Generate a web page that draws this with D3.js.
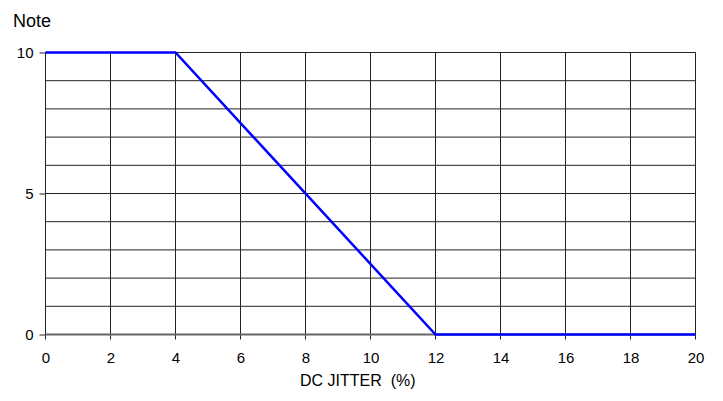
<!DOCTYPE html>
<html><head><meta charset="utf-8">
<script src="https://cdn.jsdelivr.net/npm/d3@7"></script>
<style>body{margin:0;background:#fff}svg{display:block}text{font-family:Arial,"Liberation Sans",sans-serif;fill:#000}</style>
</head><body><svg id="c" width="723" height="401"></svg>
<script>
const jitter = [0, 4, 12, 20];
const note = [10, 10, 0, 0];
const xTicks = [0,2,4,6,8,10,12,14,16,18,20];
const yTicks = [0,5,10];
const yGrid = [0,1,2,3,4,5,6,7,8,9,10];

const svg = d3.select("#c");
const x = d3.scaleLinear().domain([0,20]).range([45.5,695.5]);
const y = d3.scaleLinear().domain([0,10]).range([334.5,52.5]);
const FONT = "Arial, 'Liberation Sans', sans-serif";

// horizontal grid
svg.append("g").selectAll("line").data(yGrid.filter(d=>d>0)).join("line")
  .attr("x1",x(0)).attr("x2",x(20)).attr("y1",d=>y(d)).attr("y2",d=>y(d))
  .attr("stroke","#222").attr("stroke-width",1);
// vertical grid
svg.append("g").selectAll("line").data(xTicks.filter(d=>d>0)).join("line")
  .attr("x1",d=>x(d)).attr("x2",d=>x(d)).attr("y1",y(10)).attr("y2",y(0)+5)
  .attr("stroke","#222").attr("stroke-width",1);

// y axis
const ya = svg.append("g").attr("transform",`translate(${x(0)},0)`)
  .call(d3.axisLeft(y).tickValues(yTicks).tickSize(6).tickPadding(6).tickFormat(d3.format("d")));
ya.select(".domain").remove();
ya.append("line").attr("x1",0).attr("x2",0).attr("y1",y(10)).attr("y2",y(0)+5).attr("stroke","#222");
ya.selectAll(".tick line").attr("stroke","#222");
ya.selectAll("text").attr("font-size",15).attr("fill","#000").style("font-family",FONT);

// x axis
const xa = svg.append("g").attr("transform",`translate(0,${y(0)})`)
  .call(d3.axisBottom(x).tickValues(xTicks).tickSize(0).tickPadding(18).tickFormat(d3.format("d")));
xa.select(".domain").remove();
xa.selectAll("text").attr("font-size",15).attr("fill","#000").style("font-family",FONT);
svg.append("line").attr("x1",x(0)).attr("x2",x(20)).attr("y1",y(0)).attr("y2",y(0))
  .attr("stroke","#666").attr("stroke-width",2);

// data line
svg.append("path").datum(jitter.map((v,i)=>[v,note[i]]))
  .attr("d",d3.line().x(d=>x(d[0])).y(d=>y(d[1])))
  .attr("fill","none").attr("stroke","#0000ff").attr("stroke-width",2.5);

svg.append("text").attr("x",13).attr("y",27).attr("font-size",18).text("Note");
svg.append("text").attr("x",300).attr("y",386).attr("font-size",16)
  .attr("xml:space","preserve").style("white-space","pre").text("DC JITTER  (%)");
</script></body></html>
